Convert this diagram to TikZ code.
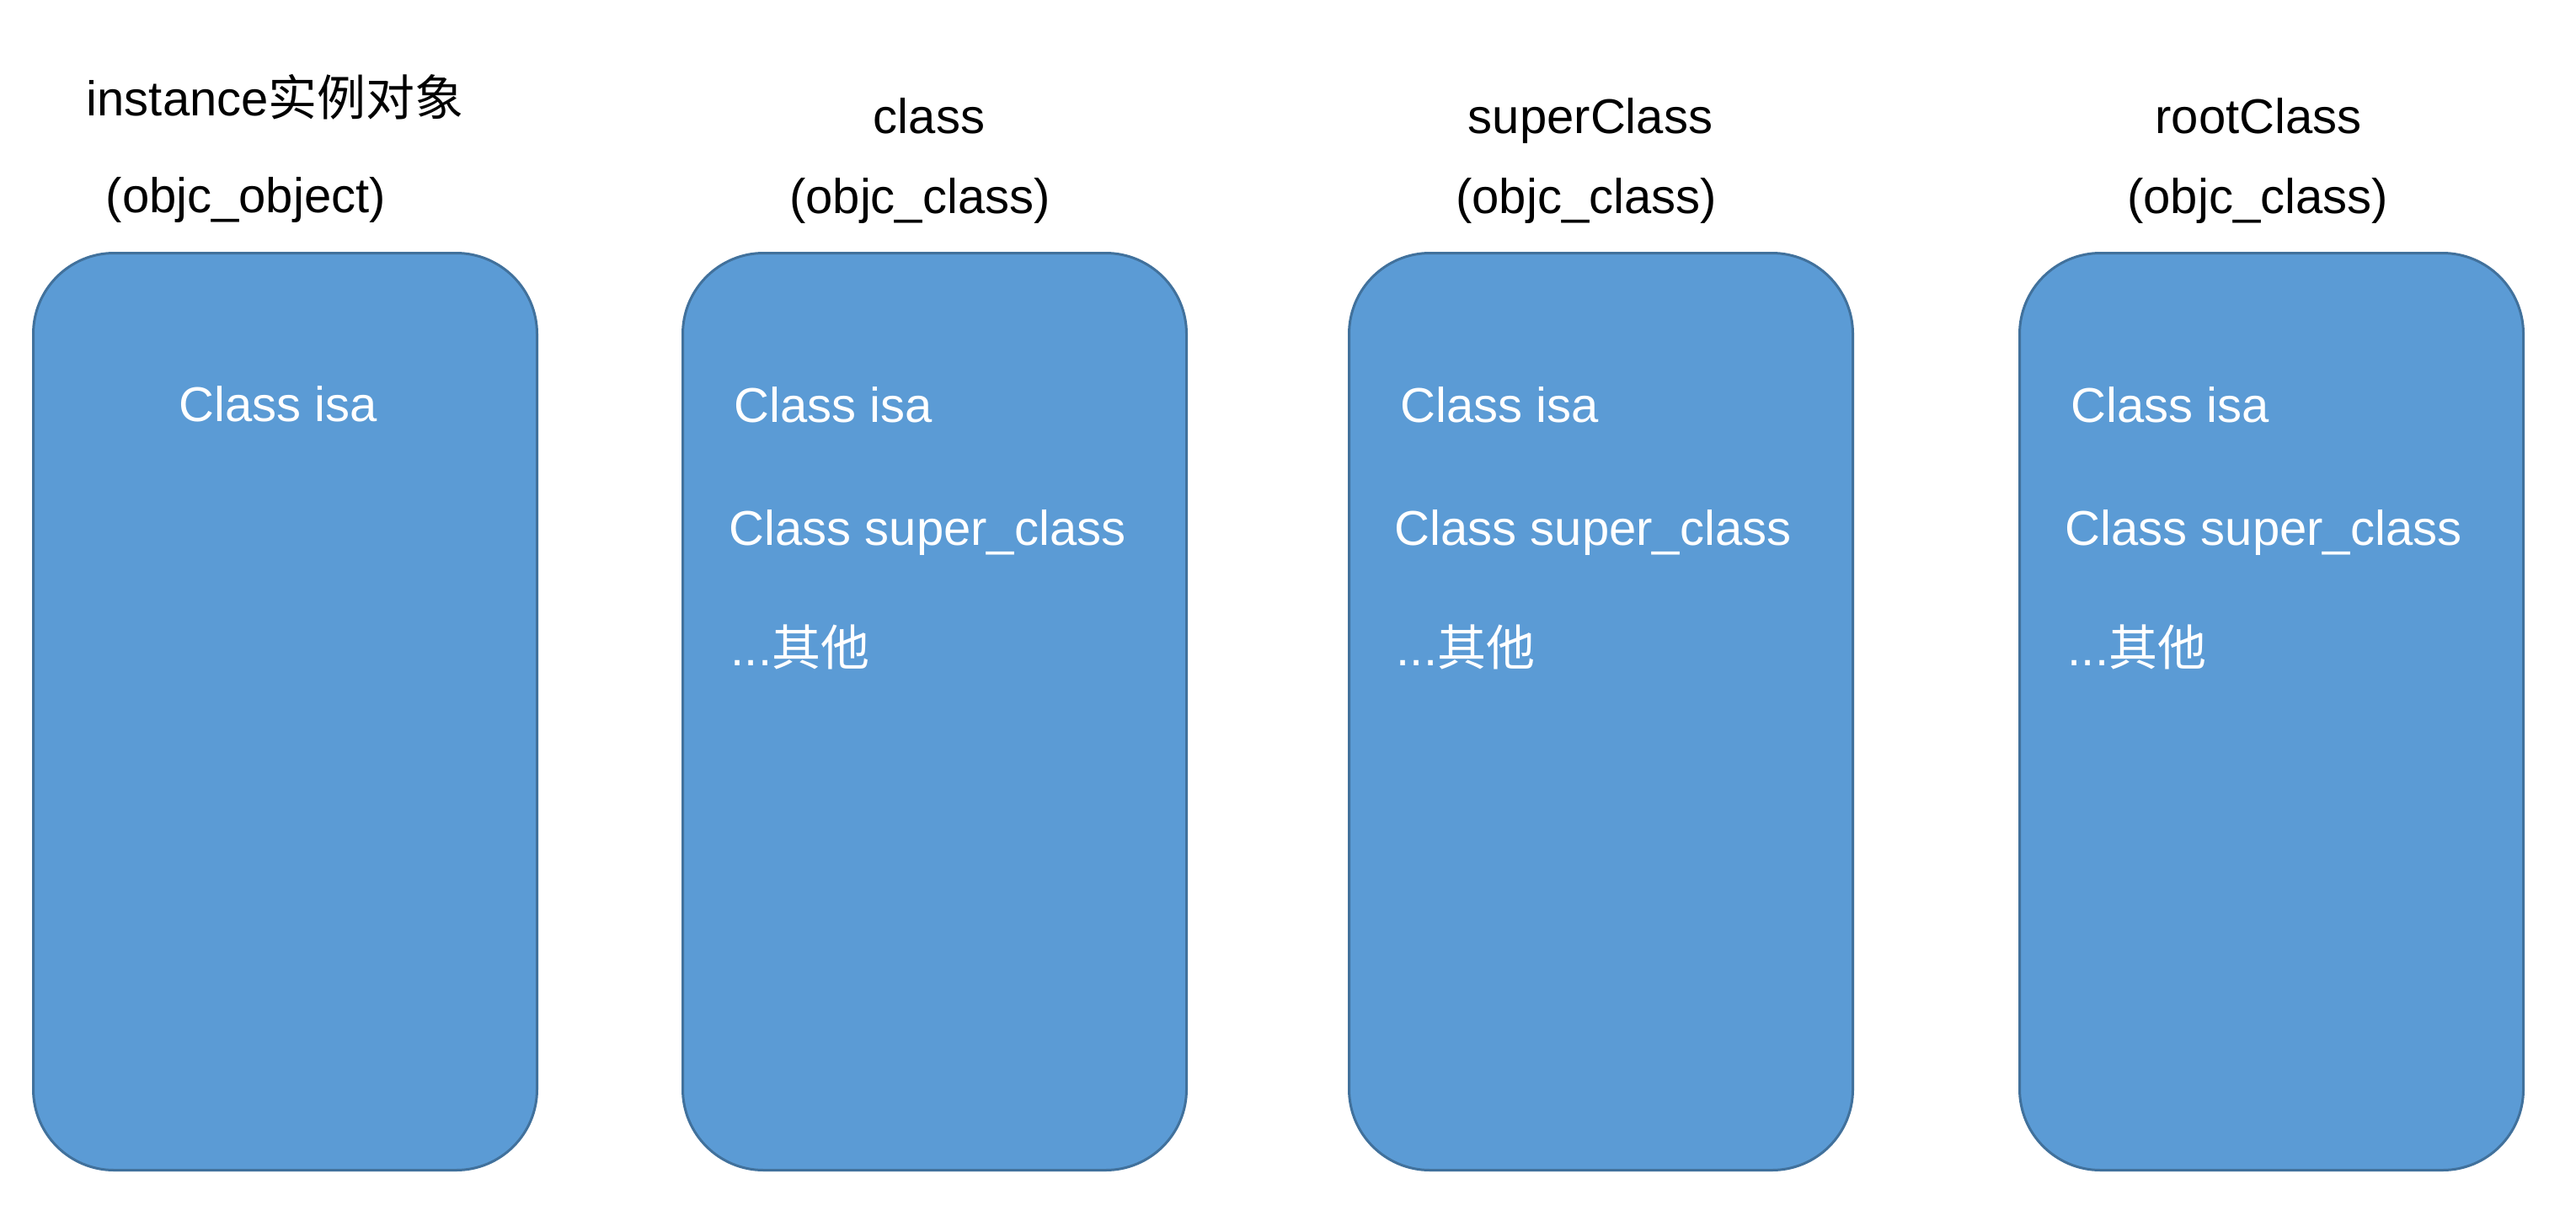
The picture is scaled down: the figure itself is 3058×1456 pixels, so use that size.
\documentclass[tikz,border=0pt]{standalone}
\usepackage{fontspec}
\setmainfont{Liberation Sans}
\newfontfamily\cjk{Noto Sans CJK SC}
\definecolor{boxfill}{HTML}{5B9BD5}
\definecolor{boxline}{HTML}{41719C}
\begin{document}
\begin{tikzpicture}[x=0.25pt,y=-0.25pt,
  objbox/.style={draw=boxline, fill=boxfill, line width=0.75pt, rounded corners=24pt,
    minimum width=149.5pt, minimum height=272.25pt, anchor=north west, inner sep=0pt},
  titletext/.style={anchor=base, inner sep=0pt, font=\fontsize{14.5}{17}\selectfont},
  fieldtext/.style={anchor=base west, inner sep=0pt, text=white, font=\fontsize{14.5}{17}\selectfont}]
\useasboundingbox (0,0) rectangle (3058,1456);
% boxes
\node[objbox] (b1) at (38,299) {};
\node[objbox] (b2) at (809,299) {};
\node[objbox] (b3) at (1600,299) {};
\node[objbox] (b4) at (2396,299) {};
% titles
\node[titletext, anchor=base west] (t1a) at (102,137) {instance\cjk{实例对象}};
\node[titletext, anchor=base west] (t1b) at (125,252) {(objc\_object)};
\node[titletext] (t2a) at (1103,158) {class};
\node[titletext] (t2b) at (1092,253) {(objc\_class)};
\node[titletext] (t3a) at (1888,158) {superClass};
\node[titletext] (t3b) at (1883,253) {(objc\_class)};
\node[titletext] (t4a) at (2681,158) {rootClass};
\node[titletext] (t4b) at (2680,253) {(objc\_class)};
% fields
\node[fieldtext] (f1a) at (212,500) {Class isa};
\node[fieldtext] (f2a) at (871,501) {Class isa};
\node[fieldtext] (f2b) at (865,647) {Class super\_class};
\node[fieldtext] (f2c) at (867,790) {...\cjk{其他}};
\node[fieldtext] (f3a) at (1662,501) {Class isa};
\node[fieldtext] (f3b) at (1655,647) {Class super\_class};
\node[fieldtext] (f3c) at (1657,790) {...\cjk{其他}};
\node[fieldtext] (f4a) at (2458,501) {Class isa};
\node[fieldtext] (f4b) at (2451,647) {Class super\_class};
\node[fieldtext] (f4c) at (2454,790) {...\cjk{其他}};
\end{tikzpicture}
\end{document}
